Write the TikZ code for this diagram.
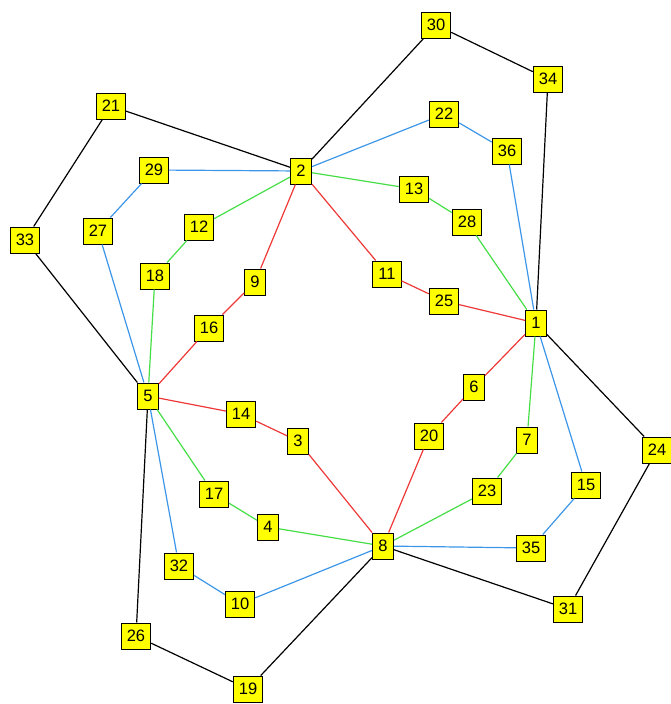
\documentclass[tikz,border=0pt]{standalone}
\usepackage{fontspec}
\setmainfont{Liberation Sans}
\usepackage{tikz}
\usetikzlibrary{positioning}
\definecolor{edgered}{RGB}{238,56,56}
\definecolor{edgegreen}{RGB}{70,222,70}
\definecolor{edgeblue}{RGB}{60,150,232}
\definecolor{boxyellow}{RGB}{255,255,0}

\begin{document}
\begin{tikzpicture}[x=1pt,y=-1pt,
    every node/.style={font=\fontsize{16.5}{18}\selectfont},
    vert/.style={draw=black, fill=boxyellow, line width=1pt, inner xsep=5.5pt, inner ysep=0pt, minimum height=26pt, minimum width=21pt},
    rim/.style={black, line width=1.2pt},
    ring/.style={edgeblue, line width=1.2pt},
    mid/.style={edgegreen, line width=1.2pt},
    core/.style={edgered, line width=1.2pt}
]
\useasboundingbox (0,0) rectangle (671,704);

\node[vert] (n1) at (536,323) {1};
\node[vert] (n2) at (301,171) {2};
\node[vert] (n3) at (298,441) {3};
\node[vert] (n4) at (268,527) {4};
\node[vert] (n5) at (148,396) {5};
\node[vert] (n6) at (474,387) {6};
\node[vert] (n7) at (527,440) {7};
\node[vert] (n8) at (383,546) {8};
\node[vert] (n9) at (255,282) {9};
\node[vert] (n10) at (240,604) {10};
\node[vert] (n11) at (387,274) {11};
\node[vert] (n12) at (199,227) {12};
\node[vert] (n13) at (414,189) {13};
\node[vert] (n14) at (241,414) {14};
\node[vert] (n15) at (586,485) {15};
\node[vert] (n16) at (209,328) {16};
\node[vert] (n17) at (214,494) {17};
\node[vert] (n18) at (155,276) {18};
\node[vert] (n19) at (248,689) {19};
\node[vert] (n20) at (429,436) {20};
\node[vert] (n21) at (111,106) {21};
\node[vert] (n22) at (444,114) {22};
\node[vert] (n23) at (487,491) {23};
\node[vert] (n24) at (657,450) {24};
\node[vert] (n25) at (444,301) {25};
\node[vert] (n26) at (136,636) {26};
\node[vert] (n27) at (98,231) {27};
\node[vert] (n28) at (467,222) {28};
\node[vert] (n29) at (154,170) {29};
\node[vert] (n30) at (436,25) {30};
\node[vert] (n31) at (568,609) {31};
\node[vert] (n32) at (179,566) {32};
\node[vert] (n33) at (25,240) {33};
\node[vert] (n34) at (548,79) {34};
\node[vert] (n35) at (531,548) {35};
\node[vert] (n36) at (507,151) {36};

% outer paths
\foreach \a/\b in {2/30,30/34,34/1,2/21,21/33,33/5,1/24,24/31,31/8,8/19,19/26,26/5}
    \draw[rim] (n\a) -- (n\b);
% blue paths
\foreach \a/\b in {2/22,22/36,36/1,2/29,29/27,27/5,1/15,15/35,35/8,8/10,10/32,32/5}
    \draw[ring] (n\a) -- (n\b);
% green paths
\foreach \a/\b in {2/13,13/28,28/1,2/12,12/18,18/5,1/7,7/23,23/8,8/4,4/17,17/5}
    \draw[mid] (n\a) -- (n\b);
% inner paths
\foreach \a/\b in {2/9,9/16,16/5,2/11,11/25,25/1,1/6,6/20,20/8,8/3,3/14,14/5}
    \draw[core] (n\a) -- (n\b);

\end{tikzpicture}
\end{document}
